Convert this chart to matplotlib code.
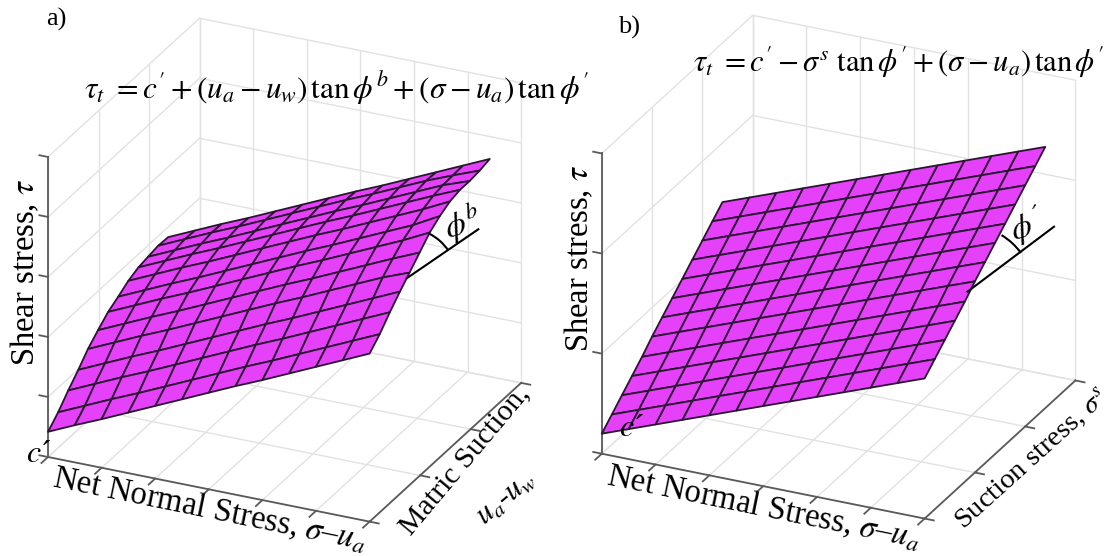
import numpy as np
import matplotlib
matplotlib.use('Agg')
import matplotlib.pyplot as plt
from matplotlib.patches import Arc
from mpl_toolkits.mplot3d import proj3d

plt.rcParams['font.family'] = ['Liberation Serif', 'DejaVu Serif']
plt.rcParams['mathtext.fontset'] = 'stix'

FIG_W, FIG_H = 1115, 556

# Axis ticks
x_ticks = [0, 1, 2, 3, 4, 5, 6]
y_ticks = [0, 1, 2, 3]
z_ticks_a = [0, 1, 2, 3, 4, 5]
z_ticks_b = [0, 1, 2, 3]

# Surface nodes
net_stress = [0.0, 0.5, 1.0, 1.5, 2.0, 2.5, 3.0, 3.5, 4.0, 4.5, 5.0, 5.5, 6.0]
suction_a = [0.0, 0.2, 0.4, 0.6, 0.79, 0.99, 1.19, 1.39, 1.59, 1.79, 1.98, 2.18, 2.38]
suction_b = [0.0, 0.2, 0.4, 0.6, 0.8, 1.0, 1.2, 1.4, 1.6, 1.8, 2.0, 2.2, 2.4]

# Shear stress (rows: suction, columns: net stress)
shear_a = [
    [0.42, 0.62, 0.81, 1.01, 1.21, 1.41, 1.61, 1.81, 2.00, 2.20, 2.40, 2.60, 2.80],
    [0.59, 0.79, 0.99, 1.18, 1.38, 1.58, 1.78, 1.98, 2.17, 2.37, 2.57, 2.77, 2.97],
    [0.80, 1.00, 1.20, 1.39, 1.59, 1.79, 1.99, 2.19, 2.38, 2.58, 2.78, 2.98, 3.18],
    [0.99, 1.19, 1.39, 1.58, 1.78, 1.98, 2.18, 2.38, 2.57, 2.77, 2.97, 3.17, 3.37],
    [1.19, 1.39, 1.59, 1.78, 1.98, 2.18, 2.38, 2.58, 2.77, 2.97, 3.17, 3.37, 3.54],
    [1.35, 1.55, 1.75, 1.94, 2.14, 2.34, 2.54, 2.74, 2.93, 3.13, 3.33, 3.53, 3.72],
    [1.50, 1.70, 1.90, 2.09, 2.29, 2.49, 2.69, 2.89, 3.08, 3.28, 3.48, 3.68, 3.90],
    [1.60, 1.80, 2.00, 2.19, 2.39, 2.59, 2.79, 2.99, 3.18, 3.38, 3.58, 3.78, 4.02],
    [1.71, 1.91, 2.11, 2.30, 2.50, 2.70, 2.90, 3.10, 3.29, 3.49, 3.69, 3.89, 4.11],
    [1.78, 1.98, 2.18, 2.37, 2.57, 2.77, 2.97, 3.17, 3.36, 3.56, 3.76, 3.96, 4.15],
    [1.81, 2.01, 2.21, 2.40, 2.60, 2.80, 3.00, 3.20, 3.39, 3.59, 3.79, 3.99, 4.15],
    [1.84, 2.04, 2.24, 2.43, 2.63, 2.83, 3.03, 3.23, 3.42, 3.62, 3.82, 4.00, 4.17],
    [1.83, 2.03, 2.23, 2.42, 2.62, 2.82, 3.02, 3.22, 3.41, 3.61, 3.81, 4.01, 4.21],
]
shear_b = [
    [0.20, 0.30, 0.40, 0.50, 0.60, 0.70, 0.80, 0.90, 1.00, 1.10, 1.20, 1.30, 1.40],
    [0.30, 0.40, 0.50, 0.60, 0.70, 0.80, 0.90, 1.00, 1.10, 1.20, 1.30, 1.40, 1.50],
    [0.40, 0.50, 0.60, 0.70, 0.80, 0.90, 1.00, 1.10, 1.20, 1.30, 1.40, 1.50, 1.60],
    [0.50, 0.60, 0.70, 0.80, 0.90, 1.00, 1.10, 1.20, 1.30, 1.40, 1.50, 1.60, 1.70],
    [0.60, 0.70, 0.80, 0.90, 1.00, 1.10, 1.20, 1.30, 1.40, 1.50, 1.60, 1.70, 1.80],
    [0.71, 0.81, 0.91, 1.01, 1.11, 1.21, 1.31, 1.41, 1.51, 1.61, 1.71, 1.81, 1.91],
    [0.81, 0.91, 1.01, 1.11, 1.21, 1.31, 1.41, 1.51, 1.61, 1.71, 1.81, 1.91, 2.01],
    [0.91, 1.01, 1.11, 1.21, 1.31, 1.41, 1.51, 1.61, 1.71, 1.81, 1.91, 2.01, 2.11],
    [1.01, 1.11, 1.21, 1.31, 1.41, 1.51, 1.61, 1.71, 1.81, 1.91, 2.01, 2.11, 2.21],
    [1.11, 1.21, 1.31, 1.41, 1.51, 1.61, 1.71, 1.81, 1.91, 2.01, 2.11, 2.21, 2.31],
    [1.21, 1.31, 1.41, 1.51, 1.61, 1.71, 1.81, 1.91, 2.01, 2.11, 2.21, 2.31, 2.41],
    [1.31, 1.41, 1.51, 1.61, 1.71, 1.81, 1.91, 2.01, 2.11, 2.21, 2.31, 2.41, 2.51],
    [1.41, 1.51, 1.61, 1.71, 1.81, 1.91, 2.01, 2.11, 2.21, 2.31, 2.41, 2.51, 2.61],
]

SURFACE = '#E541FA'
MESH = '#2a1530'
GRID = '#e2e2e2'
AXIS = '#5a5a5a'


def fit_box(ax, origin, x_end, target_origin, target_x_end):
    """Scale and move a 3d axes so two box corners land on given pixels."""
    def to_px(pt):
        x2, y2, _ = proj3d.proj_transform(*pt, ax.get_proj())
        return ax.transData.transform((x2, y2))

    w = 500.0
    ax.set_position([0, 0, w / FIG_W, w / FIG_H])
    ax.apply_aspect()
    now = np.hypot(*(to_px(x_end) - to_px(origin)))
    want = np.hypot(target_x_end[0] - target_origin[0],
                    target_x_end[1] - target_origin[1])
    w = w * want / now
    ax.set_position([0, 0, w / FIG_W, w / FIG_H])
    ax.apply_aspect()
    p0 = to_px(origin)
    left = target_origin[0] - p0[0]
    bottom = FIG_H - target_origin[1] - p0[1]
    ax.set_position([left / FIG_W, bottom / FIG_H, w / FIG_W, w / FIG_H])


def draw_panel(fig, suction, shear, z_ticks, aspect, origin_px, x_end_px):
    ax = fig.add_axes([0, 0, 0.5, 1], projection='3d', computed_zorder=False)
    ax.set_proj_type('ortho')
    ax.view_init(elev=25.4, azim=-64.9)
    ax.set_xlim(x_ticks[0], x_ticks[-1])
    ax.set_ylim(y_ticks[0], y_ticks[-1])
    ax.set_zlim(z_ticks[0], z_ticks[-1])
    ax.set_box_aspect(aspect)
    ax.set_axis_off()

    x0, x1 = x_ticks[0], x_ticks[-1]
    y0, y1 = y_ticks[0], y_ticks[-1]
    z0, z1 = z_ticks[0], z_ticks[-1]

    # Walls and floor
    grid = dict(color=GRID, lw=1.0, zorder=1)
    for x in x_ticks:
        ax.plot([x, x], [y0, y1], [z0, z0], **grid)
        ax.plot([x, x], [y1, y1], [z0, z1], **grid)
    for y in y_ticks:
        ax.plot([x0, x1], [y, y], [z0, z0], **grid)
        ax.plot([x0, x0], [y, y], [z0, z1], **grid)
    for z in z_ticks:
        ax.plot([x0, x1], [y1, y1], [z, z], **grid)
        ax.plot([x0, x0], [y0, y1], [z, z], **grid)

    # Axis lines with their ticks
    line = dict(color=AXIS, lw=1.3, zorder=2)
    ax.plot([x0, x1], [y0, y0], [z0, z0], **line)
    ax.plot([x1, x1], [y0, y1], [z0, z0], **line)
    ax.plot([x0, x0], [y0, y0], [z0, z1], **line)
    for x in x_ticks:
        ax.plot([x, x], [y0, y0 - 0.13], [z0, z0], **line)
    for y in y_ticks:
        ax.plot([x1, x1 + 0.17], [y, y], [z0, z0], **line)
    for z in z_ticks:
        ax.plot([x0, x0 - 0.16], [y0, y0], [z, z], **line)

    X, Y = np.meshgrid(net_stress, suction)
    ax.plot_surface(X, Y, np.array(shear), rstride=1, cstride=1, color=SURFACE,
                    edgecolor=MESH, linewidth=1.3, shade=False, zorder=3)

    fit_box(ax, (x0, y0, z0), (x1, y0, z0), origin_px, x_end_px)
    return ax


fig = plt.figure(figsize=(FIG_W / 100, FIG_H / 100), dpi=100)

draw_panel(fig, suction_a, shear_a, z_ticks_a, (355, 357, 332), (48, 457), (369.6, 521.7))
draw_panel(fig, suction_b, shear_b, z_ticks_b, (355, 354, 331), (601.8, 453.7), (924.6, 518.7))

# Overlay in pixel units for the labels and the friction angle marks
over = fig.add_axes([0, 0, 1, 1])
over.set_xlim(0, FIG_W)
over.set_ylim(FIG_H, 0)
over.axis('off')
over.patch.set_alpha(0)

over.text(46, 19, 'a)', fontsize=19, ha='left', va='center')
over.text(618, 27, 'b)', fontsize=19, ha='left', va='center')

eq_a = (r"$\tau_{t}\ =c^{\prime}+(u_{a}-u_{w})\,\tan\phi^{b}"
        r"+(\sigma-u_{a})\,\tan\phi^{\prime}$")
eq_b = (r"$\tau_{t}\ =c^{\prime}-\sigma^{s}\ \tan\phi^{\prime}"
        r"+(\sigma-u_{a})\,\tan\phi^{\prime}$")
over.text(84, 98, eq_a, fontsize=22.5, ha='left', va='baseline')
over.text(693, 72, eq_b, fontsize=22, ha='left', va='baseline')

label = dict(fontsize=23.5, ha='center', va='center', rotation_mode='anchor')
over.text(25, 272, r'Shear stress, $\tau$', rotation=90, **label)
over.text(579, 258, r'Shear stress, $\tau$', rotation=90, **label)
over.text(210, 509, r'Net Normal Stress, $\sigma$–$u_{a}$', rotation=-11.5, **label)
over.text(764, 507, r'Net Normal Stress, $\sigma$–$u_{a}$', rotation=-11.5, **label)
over.text(465, 460, 'Matric Suction,', fontsize=21.5, ha='center', va='center',
          rotation=50, rotation_mode='anchor')
over.text(505, 497, r'$u_{a}$-$u_{w}$', fontsize=22, ha='center', va='center',
          rotation=40, rotation_mode='anchor')
over.text(1032, 459, r'Suction stress, $\sigma^{s}$', fontsize=20.5, ha='center',
          va='center', rotation=42, rotation_mode='anchor')

over.text(38, 454, r"$c$´", fontsize=23, ha='center', va='center')
over.text(631, 428, r"$c$´", fontsize=23, ha='center', va='center')
over.text(463, 223, r'$\phi^{b}$', fontsize=24, ha='center', va='center', rotation=18)
over.text(1027, 226, r'$\phi^{´}$', fontsize=24, ha='center', va='center', rotation=18)

# Friction angle marks
over.plot([406.7, 478.3], [278.3, 229.3], color='black', lw=1.5)
over.add_patch(Arc((406.7, 278.3), 100, 100, theta1=-63, theta2=-34, color='black', lw=1.5))
over.plot([967.5, 1054], [291.7, 226.7], color='black', lw=1.5)
over.add_patch(Arc((967.5, 291.7), 132, 132, theta1=-59, theta2=-36, color='black', lw=1.5))

fig.savefig('out.png', dpi=100)
